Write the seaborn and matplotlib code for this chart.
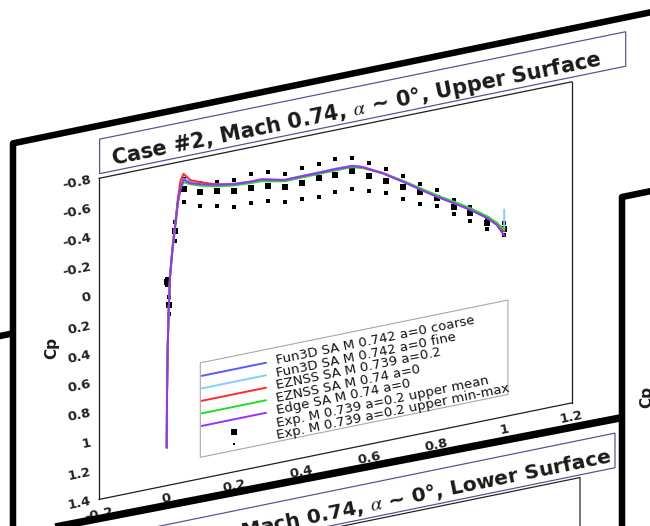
import numpy as np
import pandas as pd
import matplotlib
matplotlib.use("Agg")
import matplotlib.pyplot as plt
import matplotlib.transforms as mtransforms
from matplotlib.axes import Axes
from matplotlib.patches import Polygon
from matplotlib.lines import Line2D
from matplotlib.projections import register_projection
from matplotlib.ticker import FixedLocator, MultipleLocator, FuncFormatter
import seaborn as sns

# ---------------------------------------------------------------- data
# CFD surface pressure, upper surface (x/c, Cp)
x_cfd = [0.0, 0.001, 0.003, 0.006, 0.010, 0.017, 0.025, 0.033, 0.041, 0.050,
         0.070, 0.100, 0.150, 0.200, 0.250, 0.280, 0.310, 0.350, 0.400, 0.450,
         0.500, 0.550, 0.580, 0.640, 0.700, 0.750, 0.800, 0.850, 0.900, 0.950,
         0.978, 1.000]
cp_fun3d_coarse = [1.14, 0.77, 0.45, 0.20, -0.03, -0.21, -0.37, -0.53, -0.63, -0.68,
                   -0.645, -0.622, -0.593, -0.574, -0.566, -0.565, -0.55, -0.53, -0.532, -0.533,
                   -0.535, -0.532, -0.51, -0.44, -0.354, -0.278, -0.204, -0.136, -0.066, 0.014,
                   0.07, 0.13]
x_fun3d_fine = [0.0, 0.001, 0.003, 0.006, 0.010, 0.017, 0.025, 0.033, 0.041, 0.050,
                0.070, 0.100, 0.150, 0.200, 0.250, 0.280, 0.310, 0.350, 0.400, 0.450,
                0.500, 0.550, 0.580, 0.640, 0.700, 0.750, 0.800, 0.850, 0.900, 0.950,
                0.978, 1.000, 1.000]
cp_fun3d_fine = [1.14, 0.77, 0.45, 0.20, -0.03, -0.21, -0.37, -0.53, -0.63, -0.678,
                 -0.644, -0.621, -0.592, -0.573, -0.565, -0.564, -0.549, -0.529, -0.531, -0.532,
                 -0.534, -0.531, -0.509, -0.439, -0.353, -0.277, -0.203, -0.135, -0.065, 0.015,
                 0.07, 0.127, -0.02]
cp_eznss_0739 = [1.14, 0.77, 0.45, 0.19, -0.04, -0.22, -0.38, -0.55, -0.67, -0.713,
                 -0.66, -0.632, -0.592, -0.57, -0.562, -0.56, -0.545, -0.526, -0.528, -0.528,
                 -0.53, -0.527, -0.505, -0.44, -0.356, -0.282, -0.206, -0.138, -0.068, 0.012,
                 0.068, 0.13]
cp_eznss_074 = [1.14, 0.77, 0.45, 0.20, -0.03, -0.21, -0.36, -0.52, -0.615, -0.655,
                -0.632, -0.608, -0.58, -0.562, -0.555, -0.553, -0.538, -0.52, -0.522, -0.522,
                -0.524, -0.522, -0.502, -0.438, -0.358, -0.285, -0.212, -0.145, -0.076, 0.004,
                0.06, 0.12]
cp_edge = [1.14, 0.77, 0.45, 0.20, -0.03, -0.21, -0.36, -0.52, -0.62, -0.672,
           -0.64, -0.618, -0.59, -0.571, -0.564, -0.566, -0.55, -0.528, -0.53, -0.53,
           -0.532, -0.53, -0.508, -0.437, -0.351, -0.276, -0.202, -0.134, -0.064, 0.016,
           0.076, 0.16]

# Experiment, upper surface taps: mean and min/max envelope
x_exp = [0.0, 0.0075, 0.025, 0.05, 0.10, 0.15, 0.20, 0.25, 0.30, 0.35, 0.40, 0.45,
         0.50, 0.55, 0.60, 0.65, 0.70, 0.75, 0.80, 0.85, 0.90, 0.95, 1.00]
cp_exp_mean = [0.004, 0.168, -0.333, -0.608, -0.563, -0.547, -0.522, -0.522, -0.514, -0.479,
               -0.487, -0.495, -0.494, -0.494, -0.44, -0.382, -0.318, -0.256, -0.195, -0.11,
               -0.042, 0.047, 0.114]
cp_exp_min = [-0.015, 0.11, -0.397, -0.676, -0.625, -0.61, -0.60, -0.615, -0.605, -0.57,
              -0.585, -0.593, -0.60, -0.588, -0.525, -0.46, -0.393, -0.312, -0.248, -0.155,
              -0.082, 0.015, 0.075]
cp_exp_max = [0.025, 0.228, -0.265, -0.521, -0.471, -0.446, -0.413, -0.421, -0.411, -0.378,
              -0.375, -0.365, -0.376, -0.373, -0.334, -0.298, -0.235, -0.175, -0.138, -0.06,
              0.012, 0.092, 0.155]

cfd_labels = ["Fun3D SA M 0.742 a=0 coarse", "Fun3D SA M 0.742 a=0 fine",
              "EZNSS SA M 0.739 a=0.2", "EZNSS SA M 0.74 a=0", "Edge SA M 0.74 a=0"]
cfd_colors = ["#5a5aff", "#86cdf9", "#ff2b2b", "#22dd22", "#9a30ff"]
exp_labels = ["Exp. M 0.739 a=0.2 upper mean", "Exp. M 0.739 a=0.2 upper min-max"]

x_ticks = [-0.2, 0.0, 0.2, 0.4, 0.6, 0.8, 1.0, 1.2]
y_ticks = [-0.8, -0.6, -0.4, -0.2, 0.0, 0.2, 0.4, 0.6, 0.8, 1.0, 1.2, 1.4]

title_upper = "Case #2, Mach 0.74, $\\alpha$ ~ 0°, Upper Surface"
title_lower = "Case #2, Mach 0.74, $\\alpha$ ~ 0°, Lower Surface"

# ---------------------------------------------------------------- geometry
FIG_W, FIG_H, DPI = 650, 526, 100
SLOPE = 0.2042                      # tilt of the slide plane (rise per pixel)
ROT = np.degrees(np.arctan(SLOPE))  # matching text rotation
AX_L, AX_B, AX_W, AX_H = 99.2, 26.6, 472.5, 321.1
SHEAR = SLOPE * AX_W / AX_H


class SlantedAxes(Axes):
    """Axes drawn on a sheared plane: the x axis climbs to the right."""
    name = "slanted"

    def _set_lim_and_transforms(self):
        super()._set_lim_and_transforms()
        shear = mtransforms.Affine2D(np.array([[1.0, 0.0, 0.0],
                                               [SHEAR, 1.0, 0.0],
                                               [0.0, 0.0, 1.0]]))
        self.transShear = shear + self.transAxes
        to_axes = self.transScale + self.transLimits
        self.transData = to_axes + self.transShear
        self._xaxis_transform = (mtransforms.blended_transform_factory(
            to_axes, mtransforms.IdentityTransform()) + self.transShear)
        self._yaxis_transform = (mtransforms.blended_transform_factory(
            mtransforms.IdentityTransform(), to_axes) + self.transShear)

    def _gen_axes_patch(self):
        return Polygon([(0, 0), (1, SHEAR), (1, 1 + SHEAR), (0, 1)], closed=True)


register_projection(SlantedAxes)

sns.set_style("white")
plt.rcParams["font.family"] = ["DejaVu Sans"]
plt.rcParams["mathtext.fontset"] = "stix"
plt.rcParams["axes.unicode_minus"] = False

fig = plt.figure(figsize=(FIG_W / DPI, FIG_H / DPI), dpi=DPI)
fig.patch.set_facecolor("white")

# slide-plane coordinates (pixels, v measured downward) -> display
slide = (mtransforms.Affine2D(np.array([[1.0, 0.0, 0.0],
                                         [SLOPE, -1.0, FIG_H],
                                         [0.0, 0.0, 1.0]]))
         + mtransforms.Affine2D().scale(1.0 / DPI) + fig.dpi_scale_trans)


def px(p):
    return p * 72.0 / DPI


def slide_line(us, vs, lw, color="black", z=1):
    fig.add_artist(Line2D(us, vs, transform=slide, lw=px(lw), color=color,
                          solid_joinstyle="round", solid_capstyle="butt", zorder=z))


def slide_poly(us, vs, face, edge, lw, z):
    fig.add_artist(Polygon(list(zip(us, vs)), closed=True, transform=slide,
                           facecolor=face, edgecolor=edge, lw=px(lw), zorder=z))


# ---------------------------------------------------------------- main chart
ax = fig.add_axes([AX_L / FIG_W, AX_B / FIG_H, AX_W / FIG_W, AX_H / FIG_H],
                  projection="slanted")
ax.set_facecolor("white")

exp_range = pd.DataFrame({"x": x_exp + x_exp, "Cp": cp_exp_min + cp_exp_max})
sns.scatterplot(data=exp_range, x="x", y="Cp", marker="s", s=7, color="black",
                linewidth=0, ax=ax, legend=False, zorder=2)
sns.scatterplot(x=x_exp, y=cp_exp_mean, marker="s", s=22, color="black",
                linewidth=0, ax=ax, legend=False, zorder=2)

frames = []
for lab, xs, cps in zip(cfd_labels,
                        [x_cfd, x_fun3d_fine, x_cfd, x_cfd, x_cfd],
                        [cp_fun3d_coarse, cp_fun3d_fine, cp_eznss_0739,
                         cp_eznss_074, cp_edge]):
    frames.append(pd.DataFrame({"x": xs, "Cp": cps, "series": lab}))
cfd = pd.concat(frames, ignore_index=True)
sns.lineplot(data=cfd, x="x", y="Cp", hue="series", hue_order=cfd_labels,
             palette=dict(zip(cfd_labels, cfd_colors)), sort=False,
             estimator=None, linewidth=1.4, legend=False, ax=ax, zorder=3)

ax.set_xlim(-0.2, 1.2)
ax.set_ylim(1.4, -0.8)
ax.xaxis.set_major_locator(FixedLocator(x_ticks))
ax.yaxis.set_major_locator(FixedLocator(y_ticks))
ax.xaxis.set_minor_locator(MultipleLocator(0.05))
ax.yaxis.set_minor_locator(MultipleLocator(0.02))
fmt = FuncFormatter(lambda v, p: f"{v:g}")
ax.xaxis.set_major_formatter(fmt)
ax.yaxis.set_major_formatter(fmt)
ax.tick_params(which="major", direction="in", length=6.5, width=0.8,
               color="#222222", labelsize=9.5, labelcolor="#222222",
               top=False, right=False)
ax.tick_params(which="minor", direction="in", length=3, width=0.6,
               color="#444444", top=False, right=False)
ax.tick_params(axis="x", pad=4, labelrotation=ROT)
ax.tick_params(axis="y", pad=5, labelrotation=ROT)
for lbl in ax.get_xticklabels() + ax.get_yticklabels():
    lbl.set_fontweight("bold")
for sp in ax.spines.values():
    sp.set_color("#1e1e1e")
    sp.set_linewidth(0.9)

ax.set_xlabel("")
ax.set_ylabel("Cp", fontsize=11, fontweight="bold", color="#1e1e1e")
ax.yaxis.label.set_va("center")
ax.yaxis.set_label_coords(-0.1, 0.4715)

# legend drawn on the slanted plane
ax.add_patch(Polygon([(0.214, 0.0668), (0.865, 0.0668), (0.865, 0.3609), (0.214, 0.3609)],
                     closed=True, transform=ax.transShear, facecolor="white",
                     edgecolor="#a8a8a8", lw=0.8, zorder=4))
row_y = [0.3195, 0.2805, 0.2418, 0.2027, 0.1636, 0.1245, 0.0855]
for yy, lab, col in zip(row_y[:5], cfd_labels, cfd_colors):
    ax.plot([0.217, 0.353], [yy, yy], transform=ax.transShear, color=col,
            lw=1.4, zorder=5, clip_on=False)
ax.plot([0.285], [row_y[5]], transform=ax.transShear, marker="s", ms=3.8,
        color="black", mew=0, ls="none", zorder=5, clip_on=False)
ax.plot([0.285], [row_y[6]], transform=ax.transShear, marker="s", ms=2.0,
        color="black", mew=0, ls="none", zorder=5, clip_on=False)
for yy, lab in zip(row_y, cfd_labels + exp_labels):
    ax.text(0.375, yy, lab, transform=ax.transShear, rotation=ROT,
            rotation_mode="anchor", ha="left", va="center", fontsize=9.5,
            color="#111111", zorder=6)

# ---------------------------------------------------------------- slides
# slide to the left, edge just visible
slide_line([-40, 13], [336, 336], 6.5, z=1)
# main slide frame and title box
slide_line([13, 13, 760], [900, 146, 145], 6.5, z=1)
slide_poly([99.6, 625.7, 625.7, 99.6], [159.5, 159.5, 194, 194],
           "white", "#50509a", 1.2, z=1)
fig.text(356, 182, title_upper, transform=slide, rotation=ROT,
         rotation_mode="anchor", ha="center", va="center", fontsize=15,
         fontweight="bold", color="#1a1a1a", zorder=2)

# slide below, overlapping the bottom edge
slide_poly([-60, 622, 622, -60], [537, 544.6, 1200, 1200], "white", "none", 0, z=5)
slide_line([-60, 622], [537, 544.6], 7.5, z=6)
slide_poly([112, 615, 615, 112], [558.7, 558.7, 593.3, 593.3],
           "white", "#50509a", 1.2, z=6)
fig.text(373, 581, title_lower, transform=slide, rotation=ROT,
         rotation_mode="anchor", ha="center", va="center", fontsize=14.6,
         fontweight="bold", color="#1a1a1a", zorder=7)
slide_line([100, 580, 580], [596, 596, 1200], 1.2, color="#1e1e1e", z=6)

# slide to the right
slide_poly([622, 760, 760, 622], [324, 324, 1300, 1300], "white", "none", 0, z=8)
slide_line([622, 622, 760], [1300, 324, 324], 6.5, z=9)
fig.text(647, 529, "Cp", transform=slide, rotation=90, ha="center", va="center",
         fontsize=11, fontweight="bold", color="#1e1e1e", zorder=9)

fig.savefig("out.png", dpi=DPI, facecolor="white")
